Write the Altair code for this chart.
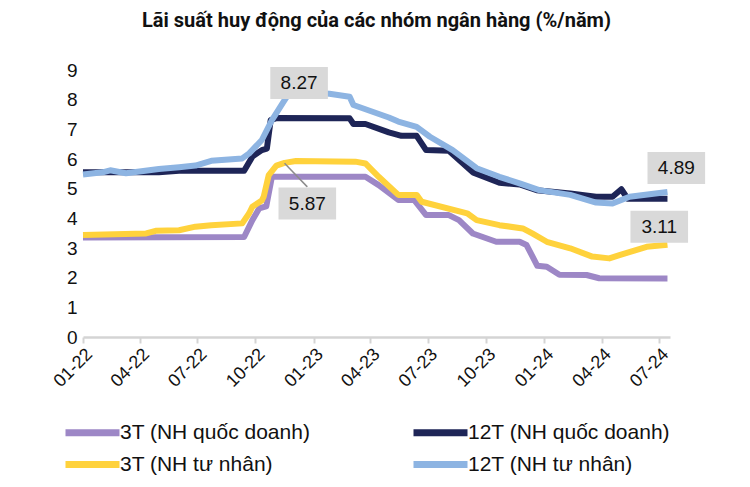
import altair as alt
import pandas as pd

# ---------------- data ----------------
series_names = ["3T (NH quốc doanh)", "12T (NH quốc doanh)", "3T (NH tư nhân)", "12T (NH tư nhân)"]
series_colors = ["#9d87c6", "#1e2557", "#ffd23c", "#8db4e2"]

qd3_dates = ["2022-01-01", "2022-09-13", "2022-09-26", "2022-10-07", "2022-10-18", "2022-10-27",
             "2023-03-24", "2023-04-14", "2023-05-15", "2023-06-09", "2023-06-28", "2023-08-03",
             "2023-08-19", "2023-09-10", "2023-10-17", "2023-11-23", "2023-12-04", "2023-12-21",
             "2024-01-05", "2024-01-25", "2024-03-08", "2024-03-28", "2024-07-14"]
qd3_vals = [3.35, 3.37, 3.94, 4.34, 4.40, 5.40,
            5.40, 5.12, 4.62, 4.62, 4.11, 4.11,
            3.94, 3.49, 3.21, 3.21, 3.10, 2.40,
            2.37, 2.10, 2.09, 1.98, 1.97]

qd12_dates = ["2022-01-01", "2022-05-01", "2022-06-02", "2022-09-13", "2022-09-26", "2022-10-11",
              "2022-10-19", "2022-10-25", "2022-11-03", "2023-02-27", "2023-03-05", "2023-03-24",
              "2023-04-30", "2023-05-20", "2023-06-13", "2023-06-28", "2023-08-03", "2023-09-10",
              "2023-10-22", "2023-11-23", "2023-12-20", "2024-02-11", "2024-03-23", "2024-04-18",
              "2024-05-02", "2024-05-12", "2024-07-14"]
qd12_vals = [5.55, 5.55, 5.60, 5.60, 6.08, 6.30,
             6.35, 7.31, 7.38, 7.37, 7.18, 7.18,
             6.90, 6.78, 6.78, 6.30, 6.28, 5.55,
             5.20, 5.14, 4.95, 4.84, 4.73, 4.73,
             4.98, 4.66, 4.66]

tn3_dates = ["2022-01-01", "2022-04-11", "2022-04-26", "2022-06-02", "2022-06-28", "2022-07-23",
             "2022-09-10", "2022-09-21", "2022-09-26", "2022-10-11", "2022-10-14", "2022-10-22",
             "2022-11-03", "2022-11-16", "2022-12-04", "2023-03-08", "2023-03-24", "2023-04-14",
             "2023-05-15", "2023-06-13", "2023-06-21", "2023-09-01", "2023-09-16", "2023-10-22",
             "2023-11-28", "2023-12-13", "2024-01-05", "2024-02-11", "2024-03-17", "2024-04-13",
             "2024-04-29", "2024-06-11", "2024-07-14"]
tn3_vals = [3.44, 3.49, 3.58, 3.60, 3.72, 3.77,
            3.83, 4.17, 4.39, 4.60, 4.73, 5.46,
            5.78, 5.87, 5.93, 5.91, 5.85, 5.40,
            4.79, 4.79, 4.56, 4.17, 3.94, 3.77,
            3.66, 3.49, 3.21, 2.99, 2.71, 2.65,
            2.76, 3.04, 3.11]

tn12_dates = ["2022-01-01", "2022-02-01", "2022-02-13", "2022-03-10", "2022-05-01", "2022-06-02",
              "2022-06-28", "2022-07-23", "2022-09-10", "2022-09-21", "2022-10-11", "2022-10-27",
              "2022-11-13", "2022-11-23", "2022-12-04", "2023-01-26", "2023-02-27", "2023-03-05",
              "2023-04-30", "2023-05-15", "2023-06-13", "2023-07-04", "2023-08-09", "2023-09-16",
              "2023-10-22", "2023-11-23", "2023-12-24", "2024-02-11", "2024-03-23", "2024-04-18",
              "2024-05-15", "2024-07-14"]
tn12_vals = [5.48, 5.55, 5.62, 5.52, 5.66, 5.72,
             5.78, 5.94, 6.02, 6.19, 6.64, 7.31,
             7.88, 8.21, 8.27, 8.20, 8.10, 7.82,
             7.40, 7.26, 7.08, 6.75, 6.30, 5.69,
             5.40, 5.18, 4.95, 4.79, 4.53, 4.50,
             4.73, 4.89]

tick_dates = ["2022-01-01", "2022-04-01", "2022-07-01", "2022-10-01", "2023-01-01", "2023-04-01",
              "2023-07-01", "2023-10-01", "2024-01-01", "2024-04-01", "2024-07-01"]
y_ticks = [0, 1, 2, 3, 4, 5, 6, 7, 8, 9]

ann_text = ["8.27", "5.87", "4.89", "3.11"]
ann_box_dates = ["2022-12-09", "2022-12-22", "2024-07-28", "2024-07-01"]
ann_box_vals = [8.56, 4.50, 5.70, 3.72]

leader_from = ("2022-11-16", 5.86)
leader_to = ("2022-12-22", 5.06)

# ---------------- tables ----------------
rows = []
for name, ds, vs in [(series_names[0], qd3_dates, qd3_vals),
                     (series_names[1], qd12_dates, qd12_vals),
                     (series_names[2], tn3_dates, tn3_vals),
                     (series_names[3], tn12_dates, tn12_vals)]:
    for d, v in zip(ds, vs):
        rows.append({"date": d, "value": v, "series": name})
df = pd.DataFrame(rows)

ann_df = pd.DataFrame({"date": ann_box_dates, "value": ann_box_vals, "label": ann_text})
leader_df = pd.DataFrame({"date": [leader_from[0]], "value": [leader_from[1]],
                          "date2": [leader_to[0]], "value2": [leader_to[1]]})

FONT = "Liberation Sans"

x_scale = alt.Scale(domain=["2022-01-01", "2024-07-18"])
y_scale = alt.Scale(domain=[0, 9], nice=False)

x_axis = alt.Axis(values=tick_dates, format="%m-%y", labelAngle=-45,
                  labelFontSize=18, labelFont=FONT, labelColor="#111111",
                  domainColor="#d4d4d4", domainWidth=2.5,
                  tickColor="#d4d4d4", tickWidth=2, tickSize=6,
                  grid=False, labelPadding=2, labelOverlap=False)
y_axis = alt.Axis(values=y_ticks, labelFontSize=19, labelFont=FONT,
                  labelColor="#111111", domain=False, ticks=False, grid=False,
                  labelPadding=6, labelOverlap=False)

x_enc = alt.X("date:T", scale=x_scale, title=None, axis=x_axis)
y_enc = alt.Y("value:Q", scale=y_scale, title=None, axis=y_axis)

color = alt.Color("series:N",
                  scale=alt.Scale(domain=series_names, range=series_colors),
                  sort=series_names,
                  legend=alt.Legend(title=None, orient="none", legendX=-3, legendY=350,
                                    direction="horizontal", columns=2, columnPadding=88,
                                    rowPadding=3,
                                    symbolType="M-3,0L3,0", symbolSize=324, symbolStrokeWidth=7,
                                    labelFontSize=21, labelFont=FONT, labelColor="#111111",
                                    labelOffset=15, labelLimit=400))

layers = []
for name in [series_names[0], series_names[2], series_names[1], series_names[3]]:
    layers.append(
        alt.Chart(df).transform_filter(alt.datum.series == name)
        .mark_line(strokeWidth=6, strokeJoin="round", strokeCap="butt")
        .encode(x=x_enc, y=y_enc, color=color, order="date:T")
    )

leader = alt.Chart(leader_df).mark_rule(color="#8c8c8c", strokeWidth=1.5).encode(
    x=x_enc, y=y_enc, x2="date2:T", y2="value2:Q")

boxes = alt.Chart(ann_df).mark_point(
    shape="M-0.9,-0.5L0.9,-0.5L0.9,0.5L-0.9,0.5Z", filled=True, size=4096,
    color="#d9d9d9", opacity=1, strokeWidth=0).encode(x=x_enc, y=y_enc)

texts = alt.Chart(ann_df).mark_text(font=FONT, fontSize=19, color="#111111",
                                    align="center", baseline="middle").encode(
    x=x_enc, y=y_enc, text="label:N")

chart = alt.layer(*layers, leader, boxes, texts).properties(
    width=587, height=267,
    autosize=alt.AutoSizeParams(type="none"),
    padding={"left": 75, "top": 62, "right": 72, "bottom": 150},
    title=alt.TitleParams("Lãi suất huy động của các nhóm ngân hàng (%/năm)",
                          font="Roboto", fontSize=20, fontWeight="bold",
                          color="#111111", anchor="middle", offset=30)
).configure_view(stroke=None)

chart.save("out.html", embed_options={"renderer": "svg", "actions": False})
